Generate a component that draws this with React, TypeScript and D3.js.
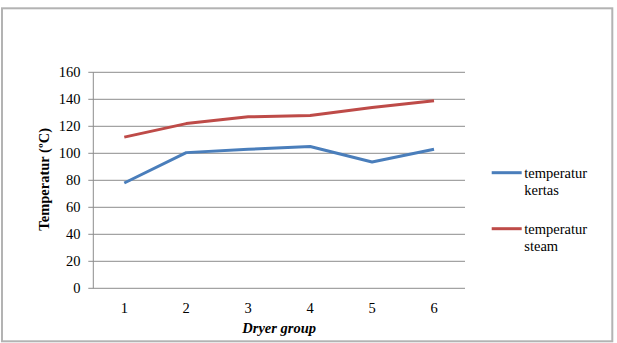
import React from "react";
import * as d3 from "d3";

const categories = ["1", "2", "3", "4", "5", "6"];
const kertas = [78, 100.5, 103, 105, 93.5, 103];
const steam = [112, 122, 127, 128, 134, 139];
const yTicks = [0, 20, 40, 60, 80, 100, 120, 140, 160];
const seriesNames = ["temperatur kertas", "temperatur steam"];

const W = 617;
const H = 343;
const left = 93.3;
const right = 465;
const top = 72.3;
const bottom = 288.3;
const font = "Liberation Serif";
const fs = 14.5;
const blue = "#4A7EBB";
const red = "#BE4B48";

export default function App() {
  const x = d3.scaleBand<string>().domain(categories).range([left, right]);
  const y = d3.scaleLinear().domain([0, 160]).range([bottom, top]);
  const cx = (c: string) => (x(c) as number) + x.bandwidth() / 2;
  const line = d3
    .line<number>()
    .x((_, i) => cx(categories[i]))
    .y((d) => y(d));

  const legend = [
    { name: seriesNames[0], color: blue, y: 172.7 },
    { name: seriesNames[1], color: red, y: 228.7 },
  ];
  const ts = { fontFamily: font, fontSize: fs };

  return (
    <svg
      width={W}
      height={H}
      style={{ position: "absolute", left: 0, top: 0, background: "#fff" }}
    >
      <rect x={2} y={8.3} width={610.3} height={333} fill="#fff" stroke="#b3b3b3" strokeWidth={2} />
      {yTicks.map((t) => (
        <g key={t}>
          <line x1={left - 5} x2={right} y1={y(t)} y2={y(t)} stroke="#8c8c8c" strokeWidth={1} />
          <text x={80.5} y={y(t)} dy="0.35em" textAnchor="end" style={ts} fill="#000">
            {t}
          </text>
        </g>
      ))}
      <line x1={left} x2={left} y1={top} y2={bottom} stroke="#8c8c8c" strokeWidth={1} />
      {categories.map((c) => (
        <text key={c} x={cx(c)} y={312.7} textAnchor="middle" style={ts} fill="#000">
          {c}
        </text>
      ))}
      <text
        x={(left + right) / 2}
        y={333.3}
        textAnchor="middle"
        style={{ ...ts, fontWeight: "bold", fontStyle: "italic" }}
      >
        Dryer group
      </text>
      <text
        transform={`translate(49,${(top + bottom) / 2 - 1}) rotate(-90)`}
        textAnchor="middle"
        style={{ ...ts, fontWeight: "bold" }}
      >
        Temperatur (ºC)
      </text>
      <path d={line(kertas) as string} fill="none" stroke={blue} strokeWidth={3} strokeLinejoin="round" />
      <path d={line(steam) as string} fill="none" stroke={red} strokeWidth={3} strokeLinejoin="round" />
      {legend.map((l) => {
        const words = l.name.split(" ");
        return (
          <g key={l.name}>
            <line x1={491.7} x2={521.7} y1={l.y} y2={l.y} stroke={l.color} strokeWidth={3} />
            <text x={524.3} y={l.y + 5.3} style={ts} fill="#000">
              {words[0]}
            </text>
            <text x={524.3} y={l.y + 22.3} style={ts} fill="#000">
              {words[1]}
            </text>
          </g>
        );
      })}
    </svg>
  );
}
